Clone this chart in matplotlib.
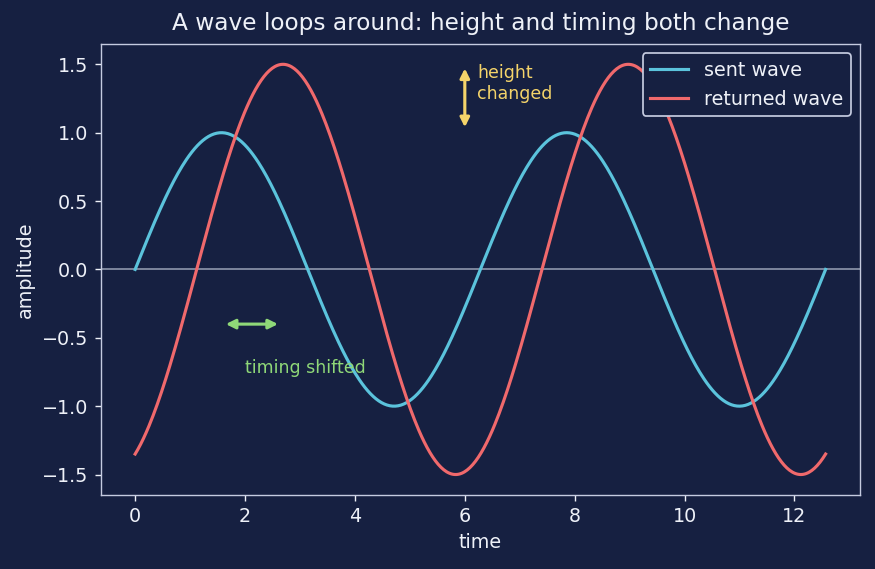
import numpy as np
import matplotlib.pyplot as plt

# wave parameters
sent_amp = 1.0
returned_amp = 1.5
returned_shift = 1.12  # radians of delay
t_end = 4 * np.pi

bg = "#162041"
fg = "#eef1f8"

t = np.linspace(0, t_end, 500)
sent = sent_amp * np.sin(t)
returned = returned_amp * np.sin(t - returned_shift)

fig = plt.figure(figsize=(7, 4.552), dpi=125, facecolor=bg)
ax = fig.add_axes([0.115, 0.13, 0.868, 0.793], facecolor=bg)

ax.axhline(0, color="#8a93a8", lw=1)
ax.plot(t, sent, color="#5bc3dc", lw=1.8, label="sent wave")
ax.plot(t, returned, color="#f0696c", lw=1.8, label="returned wave")

# height arrow
ax.annotate("", xy=(6, 1.47), xytext=(6, 1.04),
            arrowprops=dict(arrowstyle="<|-|>", color="#f5d46a", lw=1.8,
                            mutation_scale=11, shrinkA=0, shrinkB=0))
ax.text(6.22, 1.36, "height\nchanged", color="#f5d46a", fontsize=10,
        va="center", ha="left")

# timing arrow
ax.annotate("", xy=(2.6, -0.4), xytext=(1.65, -0.4),
            arrowprops=dict(arrowstyle="<|-|>", color="#8fd878", lw=1.8,
                            mutation_scale=11, shrinkA=0, shrinkB=0))
ax.text(2.0, -0.72, "timing shifted", color="#8fd878", fontsize=10,
        va="center", ha="left")

ax.set_title("A wave loops around: height and timing both change",
             color=fg, fontsize=13.4, pad=8)
ax.set_xlabel("time", color=fg, fontsize=11)
ax.set_ylabel("amplitude", color=fg, fontsize=11)
ax.tick_params(colors=fg, labelsize=11)
for s in ax.spines.values():
    s.set_color("#c5cbe0")

leg = ax.legend(loc="upper right", fontsize=11, facecolor=bg,
                edgecolor="#c5cbe0", labelcolor=fg, framealpha=1)
leg.get_frame().set_linewidth(1.0)

fig.savefig("out.png", facecolor=bg)
